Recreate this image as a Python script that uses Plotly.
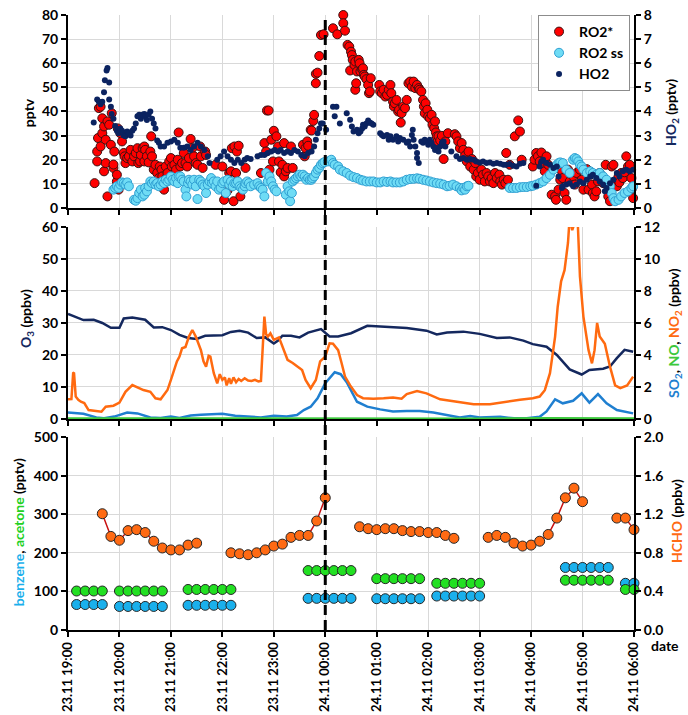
import plotly.graph_objects as go

FONT = "Lato, 'Open Sans', sans-serif"

# time axis: minutes after 23.11 19:00
hour_ticks = list(range(0, 661, 60))
hour_labels = ["23.11 19:00", "23.11 20:00", "23.11 21:00", "23.11 22:00",
               "23.11 23:00", "24.11 00:00", "24.11 01:00", "24.11 02:00",
               "24.11 03:00", "24.11 04:00", "24.11 05:00", "24.11 06:00"]
midnight = 300

# ---- radicals (minutes, pptv) ----
ro2_star = [
    (31, 10.3), (34, 19.3), (34, 23.4), (35, 29), (36, 41.4), (38, 42), (38, 25.5), (40, 31), (40, 37.2),
    (42, 33.8), (42, 15.2), (44, 18.6), (44, 28.3), (46, 35.9), (46, 4.8), (48, 34.5), (50, 26.2), (51, 39.3),
    (53, 16.6), (53, 18), (54, 23.4), (57, 11), (57, 13.8), (58, 33), (59, 7.6), (61, 31), (63, 27.6),
    (65, 22.8), (66, 21.4), (67, 18.6), (69, 20.7), (71, 21.4), (73, 24.1), (75, 19.3), (77, 21.4), (79, 22.8),
    (81, 24.8), (82, 18.6), (84, 19.3), (85, 22), (87, 24.8), (89, 25.5), (89, 19.3), (90, 24.1), (92, 21.4),
    (94, 18.9), (96, 23.4), (97, 29.7), (98, 21.4), (100, 15.9), (102, 17.9), (104, 14.5), (106, 12.4),
    (107, 17.2), (109, 15.9), (110, 13.1), (112, 7.6), (113, 11.7), (114, 17.2), (116, 14.5), (118, 19.3),
    (120, 20.7), (121, 17.2), (122, 13.1), (124, 17.9), (126, 15.9), (128, 20), (129, 31.3), (131, 17.2),
    (133, 18.6), (135, 22.8), (137, 18.6), (139, 17.2), (141, 20.7), (143, 28.6), (145, 24.8), (147, 21.4),
    (149, 18.6), (151, 17.9), (154, 25.5), (155, 21.4), (157, 16.6), (160, 23.4), (161, 22), (172, 17.9),
    (180, 17.2), (182, 3.4), (184, 6.2), (186, 7.3), (188, 14.5), (190, 15.2), (191, 24.8), (193, 2.8),
    (194, 25.5), (196, 14.5), (197, 23.4), (199, 25.8), (201, 4.8), (207, 16.6), (225, 14.5), (229, 26.9),
    (231, 23.4), (232, 40.4), (234, 40.4), (235, 15.9), (237, 28.3), (239, 19.3), (240, 32), (243, 29.7),
    (245, 25.5), (246, 19.3), (248, 14.8), (250, 17.9), (252, 26.9), (252, 13.1), (254, 15.2), (256, 16.6),
    (260, 25.5), (262, 16.6), (274, 26.2), (276, 21.4), (277, 24.8), (279, 27.6), (280, 25.8), (283, 32.4),
    (284, 32.1), (286, 36.1), (287, 38.6), (289, 51.7), (289, 55.6), (291, 56.1), (293, 63), (295, 71.7),
    (298, 72), (309, 74.5), (314, 72),
    (321, 80), (321, 76.6), (323, 73.5), (326, 67.6), (328, 66.9), (330, 64.8), (331, 63.4), (332, 61.4),
    (329, 57), (334, 59.3), (335, 60.7), (337, 56.6), (335, 49), (336, 51.7), (339, 61.4), (340, 60),
    (341, 56.6), (343, 57.5), (344, 57.9), (345, 55.2), (346, 54.5), (348, 53.4), (350, 51), (351, 47.6),
    (353, 53.8), (352, 48.3), (363, 51), (364, 48.3), (366, 47.6), (368, 49), (370, 46.2), (372, 46.9),
    (374, 49), (376, 51), (377, 47.6), (379, 44.1), (380, 42.1), (381, 43.4), (383, 44.8), (385, 40),
    (386, 40.7), (388, 35.4), (389, 39.3), (391, 42.1), (393, 41.4), (395, 44.8), (397, 51.7), (399, 52.4),
    (401, 50.3), (403, 52.4), (405, 49.7), (407, 51), (409, 49.7), (410, 49), (412, 48.3), (414, 44.8),
    (415, 42.1), (416, 39.3), (417, 43.4), (419, 40.7), (420, 37.9), (422, 37.2), (424, 38.6), (425, 34.5),
    (427, 33.1), (428, 35.9), (429, 31.3), (430, 29.7), (431, 27.6), (432, 29.7), (434, 28), (436, 29.9),
    (438, 20.3), (440, 27.6), (443, 31), (451, 30.6), (453, 29.7), (455, 27.6), (457, 24.8), (459, 26.9),
    (461, 24.1), (463, 21.7), (465, 19.3), (467, 23.4), (469, 17.2), (471, 20.3), (473, 15.9), (475, 18.6),
    (476, 13.1), (478, 14.5), (480, 11.7), (482, 15.9), (484, 13.8), (486, 11), (488, 14.5), (490, 13.1),
    (492, 11), (494, 12.4), (496, 10.3), (498, 14.5), (500, 12.4), (503, 13.8), (504, 11), (506, 9.7),
    (508, 11.7), (510, 10.3), (511, 22.8), (513, 11.7), (515, 17.9), (521, 29.7), (525, 36.3), (527, 31.7),
    (529, 20), (542, 17.2), (544, 20), (546, 22.8), (548, 21.4), (550, 19.3), (552, 23), (554, 18.6),
    (556, 15.2), (558, 21.4), (560, 17.9), (564, 5.5), (568, 4.8), (569, 3.4), (572, 7.6), (574, 11.7),
    (576, 15.2), (577, 12.4), (579, 6.2), (581, 3.4), (583, 15.9), (585, 11), (589, 13.1), (591, 9.7),
    (593, 14.5), (597, 15.9), (599, 11.7), (601, 7.6), (605, 16.1), (607, 7.6), (609, 13.8), (611, 9.7),
    (612, 6.2), (614, 4.8), (616, 6.9), (618, 11), (620, 14.5), (624, 10.3), (627, 17.9), (630, 4.8),
    (632, 2.8), (634, 17.2), (636, 17.9), (638, 11), (640, 9), (642, 13.1), (643, 10.6), (645, 14.5),
    (647, 12.4), (649, 14.8), (651, 21.4), (653, 17.2), (655, 17.9), (657, 12.4), (659, 4.1), (658, 8.3),
]

ro2_ss = [
    (53, 7.6), (55, 8.3), (57, 9), (59, 8.3), (61, 9.7), (63, 10.6), (65, 10.3), (67, 9.7), (69, 10.6), (71, 9),
    (77, 3.4), (79, 3), (81, 4.1), (83, 6.2), (85, 7.6), (87, 4.8), (89, 5.5), (90, 8.3), (92, 6.9), (94, 9),
    (96, 11), (98, 10.3), (100, 11), (102, 9.7), (104, 10.3), (106, 9), (108, 9.7), (110, 11), (112, 10.3),
    (114, 11.7), (116, 11), (118, 11.7), (120, 13.1), (122, 11.7), (124, 11), (126, 12.4), (128, 10.3),
    (129, 13.1), (131, 13.1), (133, 11.7), (135, 11), (137, 7.6), (138, 4.8), (140, 10.3), (141, 11.7),
    (143, 11), (145, 9.7), (147, 11.7), (149, 9), (151, 3.7), (153, 11.7), (155, 11), (157, 9.7), (159, 9),
    (161, 6.2), (163, 9.7), (165, 11), (167, 12.4), (168, 10.3), (170, 11), (172, 9), (174, 11), (176, 7.6),
    (178, 8.3), (180, 10.3), (182, 11), (184, 6.2), (186, 11.7), (188, 9.7), (190, 11), (192, 9), (194, 10.3),
    (196, 10.3), (198, 11), (200, 9), (202, 8.3), (204, 7.6), (206, 9), (207, 10.3), (209, 11), (211, 10.3),
    (213, 9), (217, 9.7), (221, 10.3), (223, 9), (225, 8.3), (227, 7.6), (229, 4.8), (231, 14.5), (233, 11),
    (235, 13.1), (237, 11), (239, 9), (241, 7.6), (243, 6.9),
    (254, 5.5), (256, 9), (258, 6.9), (259, 2.8), (261, 6.2), (262, 11), (264, 11.7), (266, 12.4), (268, 13.1),
    (270, 13.8), (272, 13.1), (274, 13.8), (276, 13.1), (278, 11.7), (280, 12.4), (282, 11.7), (284, 11.7),
    (285, 12.4), (287, 13.1), (289, 14.5), (291, 15.9), (293, 16.6), (295, 17.9), (297, 18.6), (299, 19),
    (303, 19.3), (307, 20), (309, 18.6), (311, 17.9), (315, 17.2), (317, 15.9), (321, 15.2), (325, 14.5),
    (329, 13.4), (333, 12.8), (337, 12.4), (341, 11.7), (344, 11.4), (348, 11), (352, 11), (356, 11),
    (360, 10.6), (364, 10.6), (368, 11), (372, 10.8), (376, 11), (379, 10.6), (383, 10.6), (387, 10.6),
    (391, 11), (395, 11.7), (399, 12), (403, 12.1), (407, 12.3), (410, 12.1), (414, 11.7), (418, 11.4),
    (422, 11), (426, 10.6), (430, 10.3), (434, 10.1), (438, 9.7), (442, 9), (445, 9.2), (449, 9.7), (453, 9),
    (457, 8.3), (459, 7.3), (461, 8.3), (463, 7.6), (465, 9), (467, 9.2),
    (515, 8.3), (519, 8.3), (523, 8.3), (527, 8.6), (531, 8.7), (535, 8.7), (539, 9), (542, 9.2), (546, 9.7),
    (550, 10.3), (554, 11), (558, 12.4), (562, 13.8), (566, 15.9), (570, 17.9), (572, 18.6), (574, 18.9),
    (577, 18.6), (581, 15.9), (585, 14.5), (589, 20), (591, 20.7), (593, 20.3), (595, 19.3), (597, 17.9),
    (599, 17.2), (601, 15.9), (605, 14.5), (609, 15.2), (612, 14.5), (616, 13.8), (620, 14.5), (624, 13.1),
    (628, 11.7), (632, 9), (634, 6.2), (636, 4.1), (638, 2.8), (642, 3.4), (645, 4.8), (649, 6.2), (653, 6.9),
    (657, 8.3), (659, 9),
]

ho2 = [
    (30, 3.54), (34, 4.5), (36, 4.4), (38, 4.3), (40, 4.4), (42, 4.8), (43, 5.3), (45, 5.7), (46, 5.8),
    (48, 5.2), (48, 4.5), (50, 4.2), (51, 3.9), (53, 3.7), (55, 3.4), (57, 3.2), (59, 3.1), (61, 3.3),
    (63, 3.2), (65, 3.0), (67, 2.97), (69, 3.17), (71, 3.1), (73, 3.0), (75, 3.2), (77, 3.3), (79, 3.5),
    (81, 3.8), (83, 3.86), (85, 3.7), (87, 3.86), (89, 3.9), (90, 3.8), (92, 3.65), (94, 3.86), (96, 4.0),
    (98, 3.7), (100, 3.5), (102, 3.3), (104, 2.8), (106, 2.7), (108, 2.55), (112, 2.55), (116, 2.7),
    (120, 2.76), (124, 2.83), (128, 2.7), (131, 2.5), (135, 2.5), (139, 2.55), (143, 2.4), (147, 2.55),
    (151, 2.7), (155, 2.55), (159, 2.4), (163, 2.14), (165, 1.86), (174, 2.0), (178, 2.14), (182, 2.34),
    (186, 2.14), (190, 2.0), (194, 1.86), (198, 2.0), (202, 1.86), (206, 2.0), (209, 2.07), (213, 2.03),
    (221, 2.14), (225, 2.2), (229, 2.2), (233, 2.28), (237, 2.34), (241, 2.4), (245, 2.34), (248, 2.4),
    (252, 2.28), (256, 2.34), (260, 2.28), (264, 2.4), (268, 2.34), (272, 2.2), (276, 2.14), (280, 2.28),
    (284, 2.34), (287, 2.55), (289, 2.83), (291, 3.1), (293, 3.3), (295, 3.5), (297, 3.5), (301, 3.24),
    (309, 4.2), (311, 3.8), (313, 4.2),
    (317, 3.5), (325, 3.93), (329, 3.66), (331, 3.38), (333, 3.17), (337, 3.24), (339, 3.1), (341, 3.17),
    (343, 3.3), (344, 3.45), (346, 3.38), (348, 3.5), (350, 3.63), (352, 3.54), (354, 3.5), (356, 3.45),
    (364, 3.1), (366, 3.03), (368, 2.97), (372, 3.03), (374, 2.83), (376, 2.97), (379, 2.83), (383, 2.97),
    (385, 2.76), (387, 2.9), (391, 2.83), (395, 2.7), (397, 2.76), (399, 2.55), (401, 3.03), (402, 3.24),
    (403, 2.83), (405, 2.55), (407, 2.28), (407, 2.07), (409, 1.86), (412, 2.76), (414, 2.7), (416, 2.83),
    (418, 2.76), (420, 2.62), (422, 2.83), (424, 2.7), (426, 2.55), (428, 2.4), (430, 2.48), (432, 2.34),
    (434, 2.55), (436, 2.7), (438, 2.76), (440, 2.55), (447, 2.34), (453, 2.14), (457, 2.03), (461, 2.07),
    (465, 2.0), (469, 2.03), (473, 2.0), (476, 1.93), (480, 1.89), (484, 1.93), (488, 1.86), (492, 1.89),
    (496, 1.83), (500, 1.86), (504, 1.83), (508, 1.79), (511, 1.79), (515, 1.82), (519, 1.75), (523, 1.72),
    (527, 1.83), (531, 1.86), (546, 0.92), (550, 1.72), (552, 1.93), (554, 2.0), (558, 1.86), (562, 1.79),
    (566, 1.66), (570, 1.72), (572, 1.31), (576, 0.83), (577, 0.9), (581, 0.97), (585, 1.03), (589, 0.9),
    (593, 0.97), (597, 1.1), (601, 1.03), (605, 1.17), (609, 1.31), (612, 1.38), (616, 1.24), (620, 1.1),
    (624, 0.97), (626, 0.69), (628, 0.83), (632, 1.03), (636, 1.17), (640, 1.45), (643, 1.31), (647, 1.52),
    (651, 1.59), (655, 1.52), (659, 1.59),
]

# ---- trace gases (minutes, ppbv) ----
o3 = [
    (0, 32.8), (18, 30.9), (30, 31.0), (40, 30.0), (50, 28.5), (60, 28.5), (65, 31.4), (75, 31.7), (90, 31.0),
    (100, 28.6), (110, 28.7), (120, 27.8), (130, 26.3), (140, 25.3), (150, 25.0), (160, 26.0), (180, 26.2),
    (190, 27.2), (200, 27.6), (210, 27.0), (220, 25.3), (230, 25.5), (240, 23.6), (245, 24.5), (250, 26.0),
    (260, 26.0), (270, 25.5), (280, 27.0), (295, 28.1), (305, 25.8), (315, 25.8), (330, 26.8), (349, 29.1),
    (376, 28.6), (395, 28.4), (418, 27.6), (430, 26.4), (442, 27.0), (461, 27.3), (480, 26.6), (500, 25.3),
    (515, 25.5), (531, 24.5), (542, 23.4), (558, 22.6), (570, 20.0), (585, 15.5), (599, 13.9), (608, 15.3),
    (624, 15.7), (632, 16.4), (640, 19.0), (649, 21.6), (659, 21.0),
]

no2 = [
    (0, 1.23), (4, 1.25), (6, 2.86), (7, 2.9), (9, 1.4), (12, 1.2), (15, 1.08), (19, 1.0), (24, 0.56),
    (33, 0.47), (39, 0.45), (44, 0.77), (53, 0.83), (60, 1.02), (67, 1.7), (75, 2.12), (81, 2.0), (88, 1.81),
    (96, 1.7), (102, 1.29), (108, 1.23), (116, 1.81), (120, 2.44), (124, 3.06), (127, 3.6), (130, 3.9),
    (133, 4.42), (137, 4.5), (141, 5.15), (145, 5.56), (149, 5.15), (155, 4.3), (158, 3.6), (161, 3.27),
    (164, 3.95), (166, 3.9), (170, 2.86), (174, 2.23), (177, 2.8), (180, 2.44), (183, 2.6), (185, 2.1),
    (188, 2.55), (190, 2.2), (193, 2.6), (196, 2.3), (199, 2.5), (202, 2.38), (206, 2.55), (210, 2.4),
    (214, 2.38), (218, 2.45), (222, 2.35), (225, 2.38), (229, 6.4), (231, 5.3), (233, 5.15), (236, 5.35),
    (240, 4.94), (246, 5.1), (252, 4.3), (256, 3.7), (262, 3.5), (268, 3.27), (273, 3.06), (277, 2.44),
    (283, 1.92), (289, 2.44), (294, 3.6), (300, 3.9), (305, 4.73), (309, 4.7), (315, 4.3), (319, 3.5),
    (323, 2.65), (329, 2.1), (337, 1.5), (344, 1.3), (356, 1.27), (368, 1.3), (379, 1.35), (389, 1.27),
    (395, 1.56), (407, 1.75), (418, 1.6), (434, 1.23), (453, 1.1), (473, 0.92), (492, 0.92), (512, 1.1),
    (527, 1.2), (542, 1.3), (550, 1.4), (556, 1.8), (562, 2.86), (568, 5.15), (571, 7.0), (575, 8.6),
    (579, 9.3), (583, 11.0), (585, 12.6), (588, 11.8), (591, 12.4), (594, 12.8), (597, 8.9), (601, 6.4),
    (607, 4.3), (611, 3.48), (614, 4.3), (617, 6.0), (620, 5.15), (626, 4.7), (632, 3.27), (638, 2.1),
    (644, 1.93), (652, 2.1), (659, 2.65),
]

so2 = [
    (0, 0.4), (18, 0.33), (33, 0.1), (42, 0.05), (54, 0.15), (69, 0.4), (81, 0.35), (96, 0.1), (108, 0.06),
    (120, 0.15), (130, 0.06), (143, 0.22), (155, 0.27), (170, 0.3), (180, 0.33), (195, 0.2), (210, 0.15),
    (225, 0.1), (240, 0.2), (255, 0.15), (267, 0.25), (275, 0.56), (283, 0.77), (291, 1.29), (300, 2.23),
    (311, 2.92), (318, 2.8), (325, 2.3), (337, 1.08), (349, 0.77), (364, 0.6), (379, 0.47), (395, 0.5),
    (410, 0.5), (426, 0.4), (442, 0.25), (457, 0.1), (469, 0.18), (480, 0.1), (504, 0.14), (520, 0.04),
    (535, 0.04), (550, 0.14), (558, 0.47), (568, 1.23), (577, 0.98), (589, 1.14), (599, 1.6), (608, 1.02),
    (618, 1.56), (628, 0.98), (640, 0.56), (659, 0.35),
]

no = [
    (0, 0.03), (120, 0.02), (240, 0.03), (360, 0.02), (480, 0.02), (560, 0.05), (600, 0.04), (660, 0.03),
]

# ---- VOCs ----
voc_min = [10, 20, 30, 40, 60, 70, 80, 90, 100, 110, 140, 150, 160, 170, 180, 190,
           280, 290, 300, 310, 320, 330, 360, 370, 380, 390, 400, 410,
           430, 440, 450, 460, 470, 480, 580, 590, 600, 610, 620, 630, 650, 660]
benzene = [66, 66, 66, 66, 61, 61, 61, 61, 61, 61, 64, 64, 64, 64, 64, 64,
           82, 82, 82, 82, 82, 82, 81, 81, 81, 81, 81, 81,
           88, 88, 88, 88, 88, 88, 162, 162, 162, 162, 162, 162, 121, 121]
acetone = [101, 101, 101, 101, 101, 101, 101, 101, 101, 101, 105, 105, 105, 105, 105, 105,
           154, 154, 154, 154, 154, 154, 133, 133, 133, 133, 133, 133,
           121, 121, 121, 121, 121, 121, 129, 129, 129, 129, 129, 129, 105, 105]

hcho_min = [40, 50, 60, 70, 80, 90, 100, 110, 120, 130, 140, 150, 160,
            190, 200, 210, 220, 230, 240, 250, 260, 270, 280, 290, 300, 310,
            340, 350, 360, 370, 380, 390, 400, 410, 420, 430, 440, 450, 460,
            490, 500, 510, 520, 530, 540, 550, 560, 570, 580, 590, 600, 610,
            640, 650, 660]
hcho = [1.205, 0.97, 0.93, 1.03, 1.04, 1.01, 0.92, 0.85, 0.83, 0.83, 0.88, 0.90, None,
        0.80, 0.79, 0.78, 0.80, 0.83, 0.87, 0.89, 0.96, 0.98, 0.98, 1.13, 1.37, None,
        1.07, 1.05, 1.04, 1.05, 1.05, 1.03, 1.02, 1.02, 1.01, 1.01, 0.98, 0.95, None,
        0.96, 0.98, 0.96, 0.90, 0.87, 0.88, 0.92, 0.99, 1.16, 1.37, 1.47, 1.33, None,
        1.16, 1.16, 1.04]


def split(pairs):
    return [p[0] for p in pairs], [p[1] for p in pairs]


fig = go.Figure()

# top panel
xs, ys = split(ro2_star)
fig.add_trace(go.Scatter(x=xs, y=ys, mode="markers", name="RO2*", xaxis="x", yaxis="y",
                         cliponaxis=False,
                         marker=dict(size=9, color="#ff0000", line=dict(color="#3c1010", width=1))))
xs, ys = split(ro2_ss)
fig.add_trace(go.Scatter(x=xs, y=ys, mode="markers", name="RO2 ss", xaxis="x", yaxis="y",
                         cliponaxis=False,
                         marker=dict(size=9, color="#6fdcf5", line=dict(color="#2f9fd2", width=1))))
xs, ys = split(ho2)
fig.add_trace(go.Scatter(x=xs, y=ys, mode="markers", name="HO2", xaxis="x", yaxis="y2",
                         cliponaxis=False,
                         marker=dict(size=6, color="#0b2360")))

# middle panel
xs, ys = split(o3)
fig.add_trace(go.Scatter(x=xs, y=ys, mode="lines", name="O3", showlegend=False,
                         xaxis="x2", yaxis="y3", line=dict(color="#14285e", width=2.5)))
xs, ys = split(so2)
fig.add_trace(go.Scatter(x=xs, y=ys, mode="lines", name="SO2", showlegend=False,
                         xaxis="x2", yaxis="y4", line=dict(color="#1f7fd0", width=2.5)))
xs, ys = split(no)
fig.add_trace(go.Scatter(x=xs, y=ys, mode="lines", name="NO", showlegend=False,
                         xaxis="x2", yaxis="y4", line=dict(color="#3cc83c", width=2.5)))
xs, ys = split(no2)
fig.add_trace(go.Scatter(x=xs, y=ys, mode="lines", name="NO2", showlegend=False,
                         xaxis="x2", yaxis="y4", line=dict(color="#ff6a10", width=2.5)))

# bottom panel
fig.add_trace(go.Scatter(x=voc_min, y=benzene, mode="markers", name="benzene", showlegend=False,
                         xaxis="x3", yaxis="y5", cliponaxis=False,
                         marker=dict(size=10, color="#1ab0ec", line=dict(color="#262626", width=1))))
fig.add_trace(go.Scatter(x=voc_min, y=acetone, mode="markers", name="acetone", showlegend=False,
                         xaxis="x3", yaxis="y5", cliponaxis=False,
                         marker=dict(size=10, color="#22e022", line=dict(color="#262626", width=1))))
fig.add_trace(go.Scatter(x=hcho_min, y=hcho, mode="lines+markers", name="HCHO", showlegend=False,
                         xaxis="x3", yaxis="y6", cliponaxis=False,
                         line=dict(color="#c81010", width=1.5),
                         marker=dict(size=10, color="#ff6a13", line=dict(color="#262626", width=1))))

tickfont = dict(family=FONT, size=14, color="black", weight="bold")
axis_common = dict(showline=True, linecolor="black", linewidth=2, ticks="outside", ticklen=5,
                   tickwidth=2, tickcolor="black", zeroline=False, tickfont=tickfont,
                   automargin=False)
x_common = dict(axis_common, range=[0, 660], tickmode="array", tickvals=hour_ticks,
                showgrid=True, gridcolor="#d9d9d9", gridwidth=1, domain=[0, 1])
yl_common = dict(axis_common, showgrid=True, gridcolor="#d9d9d9", gridwidth=1)
yr_common = dict(axis_common, showgrid=False, side="right")

top_dom = [0.6862, 1.0]
mid_dom = [0.3431, 0.6553]
bot_dom = [0.0, 0.3138]

fig.update_layout(
    width=688, height=715,
    margin=dict(l=68, r=54, t=15, b=85),
    paper_bgcolor="white", plot_bgcolor="white",
    font=dict(family=FONT, size=14, color="black"),
    xaxis=dict(x_common, anchor="y", showticklabels=False),
    xaxis2=dict(x_common, anchor="y3", showticklabels=False),
    xaxis3=dict(x_common, anchor="y5", ticktext=hour_labels, tickangle=-90,
                tickfont=dict(family=FONT, size=13, color="black", weight="bold")),
    yaxis=dict(yl_common, domain=top_dom, range=[0, 80], dtick=10, anchor="x"),
    yaxis2=dict(yr_common, overlaying="y", range=[0, 8], dtick=1, anchor="x"),
    yaxis3=dict(yl_common, domain=mid_dom, range=[0, 60], dtick=10, anchor="x2"),
    yaxis4=dict(yr_common, overlaying="y3", range=[0, 12], dtick=2, anchor="x2"),
    yaxis5=dict(yl_common, domain=bot_dom, range=[0, 500], dtick=100, anchor="x3"),
    yaxis6=dict(yr_common, overlaying="y5", range=[0, 2], dtick=0.4, tickformat=".1f", anchor="x3"),
    legend=dict(x=0.993, y=1.0, xanchor="right", yanchor="top", bgcolor="white",
                bordercolor="#8c8c8c", borderwidth=1, itemwidth=30,
                font=dict(family=FONT, size=14, color="black", weight="bold")),
    shapes=[dict(type="line", xref="x", yref="paper", x0=midnight, x1=midnight, y0=0, y1=1,
                 line=dict(color="black", width=3, dash="10px,5px"), layer="above")],
)


def title(text, x, y):
    return dict(text="<b>" + text + "</b>", xref="paper", yref="paper", x=x, y=y,
                xanchor="center", yanchor="middle", textangle=-90, showarrow=False,
                font=dict(family=FONT, size=14, color="black"))


def c(color, text):
    return '<span style="color:%s">%s</span>' % (color, text)


fig.update_layout(annotations=[
    title("pptv", -0.0707, 0.842),
    title(c("#14285e", "HO<sub>2</sub>") + " (pptv)", 1.065, 0.842),
    title(c("#14285e", "O<sub>3</sub>") + " (ppbv)", -0.0724, 0.5057),
    title(c("#1f7fd0", "SO<sub>2</sub>") + ", " + c("#3cc83c", "NO") + ", "
          + c("#ff6a10", "NO<sub>2</sub>") + " (ppbv)", 1.0724, 0.483),
    title(c("#1ab0ec", "benzene") + ", " + c("#22d022", "acetone") + " (pptv)", -0.0883, 0.159),
    title(c("#ff6a13", "HCHO") + " (ppbv)", 1.074, 0.177),
    dict(text="<b>date</b>", xref="paper", yref="paper", x=1.055, y=-0.026,
         xanchor="center", yanchor="middle", showarrow=False,
         font=dict(family=FONT, size=14, color="black")),
])

fig.write_html("out.html")
